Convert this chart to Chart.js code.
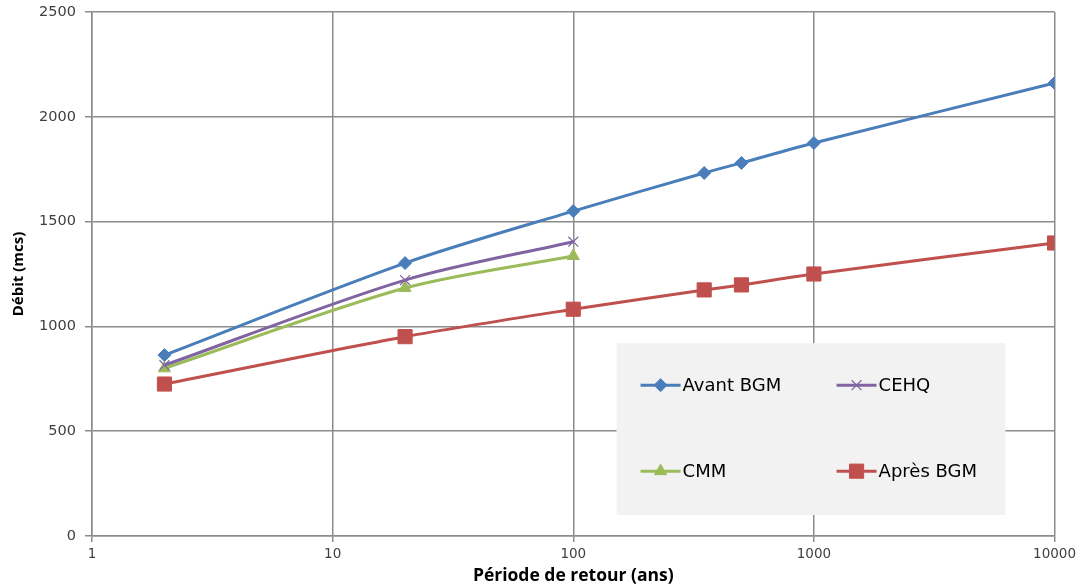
<!DOCTYPE html>
<html>
<head>
<meta charset="utf-8">
<script src="https://cdn.jsdelivr.net/npm/chart.js@4"></script>
<style>
  html, body { margin: 0; padding: 0; background: #fff; }
  #wrap { width: 1080px; height: 587px; }
</style>
</head>
<body>
<div id="wrap"><canvas id="myChart" width="1080" height="587"></canvas></div>
<script>
// périodes de retour (ans)
let periodes = [2, 20, 100, 350, 500, 1000, 10000];
let periodesCourtes = [2, 20, 100];

// débits (mcs)
let avantBGM = [863, 1302, 1550, 1732, 1780, 1875, 2161];
let apresBGM = [725, 951, 1082, 1174, 1198, 1250, 1398];
let cehq = [815, 1221, 1404];
let cmm = [800, 1183, 1336];

let xTicks = [1, 10, 100, 1000, 10000];

const gridColor = "#8c8c8c";

function pts(xs, ys) {
  return xs.map((x, i) => ({ x: x, y: ys[i] }));
}

function serie(label, xs, ys, color, style, radius) {
  return {
    label: label,
    data: pts(xs, ys),
    borderColor: color,
    backgroundColor: color,
    borderWidth: 3,
    tension: 0.3,
    fill: false,
    pointStyle: style,
    pointRadius: radius,
    pointBackgroundColor: color,
    pointBorderColor: color,
    pointBorderWidth: style === "crossRot" ? 1.2 : 1,
  };
}

let datasets = [
  serie("Avant BGM", periodes, avantBGM, "#4a7ebb", "rectRot", 6.5),
  serie("CEHQ", periodesCourtes, cehq, "#8064a2", "crossRot", 7),
  serie("CMM", periodesCourtes, cmm, "#9bbb59", "triangle", 7),
  serie("Après BGM", periodes, apresBGM, "#c0504d", "rect", 10),
];

// legende dans la zone du graphique (fond gris)
const boxLegend = {
  id: "boxLegend",
  afterDatasetsDraw(chart) {
    const { ctx, chartArea: a } = chart;
    const w = a.right - a.left, h = a.bottom - a.top;
    const x0 = a.left + w * 0.545, x1 = a.left + w * 0.949;
    const y0 = a.top + h * 0.632, y1 = a.top + h * 0.96;
    ctx.save();
    ctx.fillStyle = "#f2f2f2";
    ctx.fillRect(x0, y0, x1 - x0, y1 - y0);
    const cols = [x0 + 24, x0 + 220];
    const rows = [y0 + 42, y0 + 128];
    ctx.font = "18px 'DejaVu Sans'";
    ctx.textBaseline = "middle";
    datasets.forEach((d, i) => {
      const lx = cols[i % 2], ly = rows[Math.floor(i / 2)];
      ctx.strokeStyle = d.borderColor;
      ctx.lineWidth = 3;
      ctx.beginPath();
      ctx.moveTo(lx, ly);
      ctx.lineTo(lx + 40, ly);
      ctx.stroke();
      ctx.fillStyle = d.borderColor;
      ctx.lineWidth = d.pointBorderWidth;
      Chart.helpers.drawPoint(ctx, { pointStyle: d.pointStyle, radius: d.pointRadius, borderWidth: d.pointBorderWidth }, lx + 20, ly);
      ctx.fillStyle = "#000";
      ctx.fillText(d.label, lx + 42, ly + 1);
    });
    ctx.restore();
  },
};

let ctx = document.getElementById("myChart").getContext("2d");

let myChart = new Chart(ctx, {
  type: "line",
  data: { datasets: datasets },
  options: {
    responsive: false,
    animation: false,
    layout: { padding: { top: 12, right: 25, left: 10, bottom: 0 } },
    plugins: {
      legend: { display: false },
      tooltip: { enabled: false },
    },
    scales: {
      x: {
        type: "logarithmic",
        min: 1,
        max: 10000,
        afterBuildTicks: (s) => {
          s.ticks = xTicks.map((v) => ({ value: v }));
        },
        afterFit: (s) => { s.height = 51; },
        ticks: {
          autoSkip: false,
          maxRotation: 0,
          color: "#404040",
          font: { family: "DejaVu Sans", size: 13.5 },
          padding: 4,
          callback: (v) => String(v),
        },
        grid: { color: gridColor, lineWidth: 1.5, tickLength: 6 },
        border: { color: gridColor, width: 1.5 },
        title: {
          display: true,
          text: "Période de retour (ans)",
          color: "#000",
          font: { family: "Open Sans", size: 17.5, weight: "bold" },
          padding: { top: 0, bottom: 0 },
        },
      },
      y: {
        type: "linear",
        min: 0,
        max: 2500,
        afterFit: (s) => {
          s.width = 82;
          s.paddingTop = 0;
        },
        ticks: {
          stepSize: 500,
          color: "#404040",
          font: { family: "DejaVu Sans", size: 14.5 },
          padding: 9,
          callback: (v) => String(v),
        },
        grid: { color: gridColor, lineWidth: 1.5, tickLength: 7 },
        border: { color: gridColor, width: 1.5 },
        title: {
          display: true,
          text: "Débit (mcs)",
          color: "#000",
          font: { family: "Open Sans", size: 15, weight: "bold" },
          padding: { top: 0, bottom: 0 },
        },
      },
    },
  },
  plugins: [boxLegend],
});
</script>
</body>
</html>
